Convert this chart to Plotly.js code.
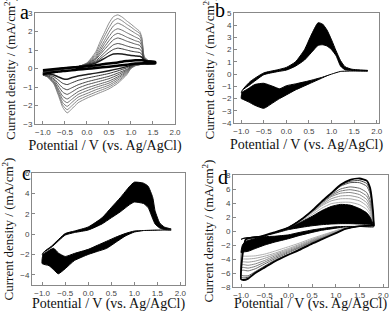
<!DOCTYPE html>
<html><head><meta charset="utf-8">
<script src="https://cdn.plot.ly/plotly-3.0.1.min.js"></script>
<style>html,body{margin:0;padding:0;background:#fff}#plot{width:392px;height:312px}</style>
</head><body><div id="plot"></div>
<script>
// ---------- Panel a : potential grids (V) and current density (mA/cm2) per cycle ----------
const aEf = [-1.0, -0.6, -0.2, 0.0, 0.2, 0.3, 0.4, 0.5, 0.6, 0.7, 0.8, 0.9, 1.0, 1.1, 1.2, 1.25, 1.3, 1.4, 1.55];
const aEr = [1.55, 1.3, 1.1, 1.0, 0.9, 0.7, 0.5, 0.2, 0.0, -0.2, -0.35, -0.45, -0.55, -0.65, -0.75, -0.9, -1.0];
const aFwd1  = [-0.1, 0.0, 0.08, 0.12, 0.18, 0.2, 0.24, 0.27, 0.3, 0.33, 0.37, 0.4, 0.42, 0.44, 0.45, 0.44, 0.42, 0.38, 0.35];
const aFwd2  = [-0.15, 0.0, 0.1, 0.18, 0.3, 0.42, 0.55, 0.68, 0.78, 0.8, 0.78, 0.74, 0.7, 0.68, 0.66, 0.6, 0.45, 0.38, 0.35];
const aFwd3  = [-0.17, -0.01, 0.1, 0.2, 0.36, 0.52, 0.7, 0.88, 1.03, 1.1, 1.06, 1.0, 0.94, 0.9, 0.86, 0.76, 0.48, 0.39, 0.35];
const aFwd4  = [-0.2, -0.02, 0.1, 0.22, 0.42, 0.62, 0.85, 1.08, 1.28, 1.35, 1.3, 1.22, 1.15, 1.1, 1.05, 0.9, 0.5, 0.4, 0.36];
const aFwd5  = [-0.21, -0.02, 0.1, 0.24, 0.5, 0.75, 1.03, 1.3, 1.55, 1.65, 1.58, 1.48, 1.4, 1.32, 1.25, 1.06, 0.52, 0.4, 0.36];
const aFwd6  = [-0.22, -0.03, 0.1, 0.25, 0.55, 0.85, 1.18, 1.5, 1.78, 1.9, 1.82, 1.7, 1.6, 1.5, 1.42, 1.2, 0.55, 0.4, 0.36];
const aFwd7  = [-0.24, -0.03, 0.1, 0.26, 0.62, 0.97, 1.35, 1.72, 2.03, 2.15, 2.07, 1.94, 1.82, 1.7, 1.58, 1.32, 0.57, 0.41, 0.37];
const aFwd8  = [-0.26, -0.04, 0.1, 0.28, 0.7, 1.1, 1.52, 1.95, 2.3, 2.45, 2.35, 2.2, 2.05, 1.9, 1.75, 1.45, 0.6, 0.41, 0.37];
const aFwd9  = [-0.28, -0.04, 0.1, 0.29, 0.8, 1.28, 1.75, 2.2, 2.57, 2.7, 2.58, 2.4, 2.24, 2.06, 1.9, 1.56, 0.62, 0.42, 0.38];
const aFwd10 = [-0.3, -0.05, 0.1, 0.3, 0.9, 1.45, 1.95, 2.45, 2.8, 2.9, 2.78, 2.58, 2.4, 2.2, 2.0, 1.65, 0.65, 0.42, 0.38];
const aRev1  = [0.28, 0.28, 0.27, 0.24, 0.2, 0.15, 0.1, 0.03, -0.02, -0.06, -0.1, -0.12, -0.14, -0.16, -0.2, -0.25, -0.3];
const aRev2  = [0.28, 0.27, 0.24, 0.18, 0.1, -0.02, -0.12, -0.25, -0.32, -0.4, -0.5, -0.58, -0.55, -0.45, -0.35, -0.3, -0.32];
const aRev3  = [0.28, 0.27, 0.22, 0.14, 0.03, -0.13, -0.27, -0.42, -0.52, -0.64, -0.78, -0.87, -0.8, -0.62, -0.45, -0.34, -0.32];
const aRev4  = [0.28, 0.26, 0.2, 0.1, -0.05, -0.25, -0.42, -0.6, -0.72, -0.88, -1.05, -1.15, -1.05, -0.8, -0.55, -0.38, -0.33];
const aRev5  = [0.29, 0.26, 0.19, 0.08, -0.1, -0.35, -0.55, -0.75, -0.88, -1.06, -1.28, -1.4, -1.28, -0.95, -0.62, -0.4, -0.33];
const aRev6  = [0.29, 0.25, 0.18, 0.06, -0.15, -0.45, -0.68, -0.9, -1.05, -1.25, -1.5, -1.65, -1.5, -1.1, -0.7, -0.42, -0.34];
const aRev7  = [0.3, 0.25, 0.17, 0.05, -0.2, -0.53, -0.79, -1.02, -1.2, -1.4, -1.68, -1.85, -1.68, -1.2, -0.74, -0.43, -0.34];
const aRev8  = [0.3, 0.25, 0.16, 0.03, -0.25, -0.62, -0.9, -1.15, -1.35, -1.55, -1.85, -2.05, -1.85, -1.3, -0.78, -0.44, -0.35];
const aRev9  = [0.3, 0.25, 0.15, 0.01, -0.3, -0.71, -1.0, -1.28, -1.48, -1.7, -2.03, -2.23, -1.98, -1.38, -0.82, -0.45, -0.35];
const aRev10 = [0.3, 0.25, 0.15, 0.0, -0.35, -0.8, -1.1, -1.4, -1.6, -1.85, -2.2, -2.4, -2.1, -1.45, -0.85, -0.45, -0.35];

// ---------- Panel b : first (inner) and last (outer) cycles ----------
const bEf = [-1.0, -0.97, -0.8, -0.5, -0.2, 0.0, 0.2, 0.4, 0.55, 0.7, 0.8, 0.9, 1.0, 1.1, 1.2, 1.3, 1.45, 1.8];
const bEr = [1.8, 1.45, 1.2, 1.0, 0.8, 0.5, 0.2, 0.0, -0.15, -0.3, -0.5, -0.7, -0.85, -0.97, -1.0];
const bOutF = [-2.0, -1.3, -0.6, 0.1, 0.35, 0.55, 1.0, 2.0, 3.2, 4.2, 4.1, 3.6, 2.8, 1.9, 1.1, 0.6, 0.4, 0.3];
const bInF  = [-1.5, -1.3, -0.85, -0.05, 0.2, 0.33, 0.65, 1.15, 1.75, 2.35, 2.4, 2.3, 2.0, 1.5, 0.65, 0.35, 0.3, 0.25];
const bOutR = [0.3, 0.3, 0.25, 0.05, -0.3, -0.8, -1.3, -1.7, -2.0, -2.35, -2.8, -2.55, -2.25, -2.05, -2.0];
const bInR  = [0.25, 0.25, 0.22, 0.0, -0.25, -0.55, -0.8, -0.95, -1.2, -1.0, -0.75, -0.85, -1.2, -1.45, -1.5];

// ---------- Panel c ----------
const cEf = [-1.0, -0.97, -0.8, -0.5, -0.3, 0.0, 0.3, 0.5, 0.7, 0.9, 1.0, 1.2, 1.3, 1.4, 1.45, 1.55, 1.65, 1.8];
const cEr = [1.8, 1.5, 1.2, 1.0, 0.8, 0.6, 0.4, 0.2, 0.0, -0.3, -0.5, -0.65, -0.75, -0.85, -1.0];
const cOutF = [-2.9, -1.8, -1.2, 0.05, 0.3, 0.7, 1.6, 2.6, 3.6, 4.7, 5.1, 5.0, 4.7, 3.6, 2.3, 1.1, 0.7, 0.5];
const cInF  = [-2.0, -1.8, -1.3, -0.1, 0.15, 0.4, 1.0, 1.6, 2.2, 2.9, 3.15, 3.0, 2.6, 1.5, 1.0, 0.6, 0.45, 0.4];
const cOutR = [0.5, 0.4, 0.35, 0.2, -0.2, -0.8, -1.4, -1.7, -2.0, -2.6, -3.4, -3.9, -3.5, -3.1, -2.9];
const cInR  = [0.4, 0.4, 0.35, 0.3, 0.05, -0.3, -0.7, -1.1, -1.5, -1.9, -2.2, -1.85, -1.4, -1.6, -2.0];

// ---------- Panel d ----------
const dEf = [-1.0, -0.97, -0.9, -0.6, -0.3, 0.0, 0.3, 0.5, 0.7, 0.9, 1.1, 1.3, 1.5, 1.65, 1.72, 1.76, 1.8];
const dEr = [1.8, 1.5, 1.2, 1.0, 0.7, 0.5, 0.2, 0.0, -0.3, -0.5, -0.7, -0.85, -0.95, -1.0];
const dFwd1 = [-1.2, -1.1, -1.0, -0.8, -0.35, 0.2, 0.55, 0.75, 0.9, 1.0, 1.05, 1.05, 1.0, 0.95, 0.9, 0.85, 0.8];
const dFwd2 = [-3.1, -2.0, -1.5, -0.9, -0.3, 0.4, 1.4, 2.1, 2.9, 3.5, 3.8, 3.7, 3.2, 2.6, 2.0, 1.4, 0.8];
const dFwd3 = [-3.6, -2.1, -1.45, -0.95, -0.3, 0.45, 1.55, 2.35, 3.25, 3.9, 4.1, 4.1, 3.75, 3.1, 2.4, 1.7, 0.85];
const dFwd4 = [-4.0, -2.2, -1.4, -1.0, -0.3, 0.5, 1.7, 2.6, 3.6, 4.3, 4.6, 4.6, 4.3, 3.6, 2.8, 2.0, 0.9];
const dFwd5 = [-4.4, -2.3, -1.4, -1.02, -0.3, 0.5, 1.72, 2.7, 3.75, 4.6, 5.0, 5.05, 4.75, 4.05, 3.2, 2.3, 0.9];
const dFwd6 = [-4.8, -2.4, -1.4, -1.05, -0.3, 0.5, 1.75, 2.8, 3.9, 4.9, 5.4, 5.5, 5.2, 4.5, 3.6, 2.6, 0.9];
const dFwd7 = [-5.2, -2.5, -1.35, -1.08, -0.3, 0.5, 1.77, 2.83, 4.0, 5.05, 5.7, 5.9, 5.65, 5.0, 4.05, 2.95, 0.92];
const dFwd8 = [-5.6, -2.6, -1.3, -1.1, -0.3, 0.5, 1.78, 2.85, 4.1, 5.2, 6.0, 6.3, 6.1, 5.5, 4.5, 3.3, 0.95];
const dFwd9 = [-6.3, -3.0, -1.3, -1.15, -0.25, 0.5, 1.8, 2.9, 4.15, 5.3, 6.4, 6.9, 6.9, 6.4, 5.4, 3.9, 1.0];
const dFwd10 = [-6.6, -3.2, -1.25, -1.0, -0.22, 0.5, 1.8, 2.9, 4.18, 5.35, 6.5, 7.1, 7.2, 6.8, 5.8, 4.2, 1.0];
const dFwd11 = [-6.9, -3.5, -1.2, -0.8, -0.2, 0.5, 1.8, 2.9, 4.2, 5.4, 6.6, 7.3, 7.5, 7.2, 6.2, 4.5, 1.0];
const dRev1 = [0.6, 0.65, 0.65, 0.6, 0.35, 0.15, -0.25, -0.55, -0.75, -0.8, -0.85, -0.95, -1.05, -1.2];
const dRev2 = [0.75, 0.75, 0.6, 0.4, 0.1, -0.2, -0.7, -1.1, -1.6, -2.0, -2.5, -2.9, -3.0, -3.1];
const dRev3 = [0.78, 0.75, 0.5, 0.05, -0.6, -1.05, -1.8, -2.25, -2.9, -3.3, -3.55, -3.6, -3.6, -3.6];
const dRev4 = [0.8, 0.75, 0.45, 0.0, -0.7, -1.2, -2.0, -2.5, -3.2, -3.6, -3.9, -4.0, -4.0, -4.0];
const dRev5 = [0.8, 0.75, 0.42, -0.05, -0.8, -1.3, -2.15, -2.65, -3.4, -3.9, -4.3, -4.45, -4.4, -4.4];
const dRev6 = [0.8, 0.75, 0.4, -0.1, -0.9, -1.4, -2.3, -2.8, -3.6, -4.2, -4.7, -4.9, -4.8, -4.8];
const dRev7 = [0.8, 0.73, 0.38, -0.15, -0.95, -1.5, -2.4, -2.95, -3.8, -4.45, -5.05, -5.3, -5.2, -5.2];
const dRev8 = [0.8, 0.72, 0.35, -0.2, -1.0, -1.6, -2.5, -3.1, -4.0, -4.7, -5.4, -5.7, -5.6, -5.6];
const dRev9 = [0.8, 0.7, 0.32, -0.25, -1.1, -1.7, -2.7, -3.3, -4.2, -5.0, -5.8, -6.4, -6.4, -6.3];
const dRev10 = [0.8, 0.7, 0.31, -0.28, -1.15, -1.75, -2.75, -3.35, -4.3, -5.1, -5.9, -6.6, -6.7, -6.6];
const dRev11 = [0.8, 0.7, 0.3, -0.3, -1.2, -1.8, -2.8, -3.4, -4.4, -5.2, -6.0, -6.8, -7.0, -6.9];

const xTickVals = [-1.0, -0.5, 0.0, 0.5, 1.0, 1.5, 2.0];
const xTitle = 'Potential / V (vs. Ag/AgCl)';
const yTitle = 'Current density / (mA/cm<sup>2</sup>)';
const panelLetters = ['a', 'b', 'c', 'd'];

function loop(Ef, fwd, Er, rev, ax, opts) {
  return Object.assign({
    type: 'scatter', mode: 'lines',
    x: Ef.concat(Er), y: fwd.concat(rev),
    xaxis: 'x' + ax, yaxis: 'y' + ax,
    hoverinfo: 'skip', showlegend: false
  }, opts);
}
function lineStyle(c, w) { return {line: {color: c, width: w, shape: 'spline', smoothing: 0.5}}; }
function filled(fc, lc) { return {fill: 'toself', fillcolor: fc, line: {color: lc, width: 1, shape: 'spline', smoothing: 0.5}}; }

const traces = [];
// a : outer (light grey) cycles first, inner (black) on top
const aF = [aFwd10, aFwd9, aFwd8, aFwd7, aFwd6, aFwd5, aFwd4, aFwd3, aFwd2, aFwd1];
const aR = [aRev10, aRev9, aRev8, aRev7, aRev6, aRev5, aRev4, aRev3, aRev2, aRev1];
const aCol = ['#8e8e8e', '#858585', '#7b7b7b', '#707070', '#636363', '#565656', '#474747', '#363636', '#1e1e1e', '#000000'];
const aW = [1, 1, 1, 1, 1, 1, 1, 1, 1.5, 2.5];
for (let i = 0; i < aF.length; i++) traces.push(loop(aEf, aF[i], aEr, aR[i], '', lineStyle(aCol[i], aW[i])));
// b
traces.push(loop(bEf, bOutF, bEr, bOutR, '2', filled('#000', '#000')));
traces.push(loop(bEf, bInF, bEr, bInR, '2', filled('#fff', '#000')));
// c
traces.push(loop(cEf, cOutF, cEr, cOutR, '3', filled('#000', '#000')));
traces.push(loop(cEf, cInF, cEr, cInR, '3', filled('#fff', '#000')));
// d
const dF = [dFwd10, dFwd9, dFwd8, dFwd7, dFwd6, dFwd5, dFwd4, dFwd3];
const dR = [dRev10, dRev9, dRev8, dRev7, dRev6, dRev5, dRev4, dRev3];
const dCol = ['#444', '#555', '#666', '#777', '#888', '#999', '#a5a5a5', '#b0b0b0'];
for (let i = 0; i < dF.length; i++) traces.push(loop(dEf, dF[i], dEr, dR[i], '4', lineStyle(dCol[i], 1)));
traces.push(loop(dEf, dFwd2, dEr, dRev2, '4', filled('#000', '#000')));
traces.push(loop(dEf, dFwd1, dEr, dRev1, '4', filled('#fff', '#000')));
traces.push(loop(dEf, dFwd11, dEr, dRev11, '4', lineStyle('#000', 1.8)));

const tickFont = {family: 'Liberation Sans', size: 8, color: '#444'};
function xax(domain, range, anchor) {
  return {domain: domain, range: range, anchor: anchor, tickvals: xTickVals, tickformat: '.1f',
    showline: true, mirror: true, linecolor: '#888', linewidth: 1, ticks: 'inside', ticklen: 3, tickcolor: '#888',
    showgrid: false, zeroline: false, tickfont: tickFont,
    title: {text: xTitle, standoff: 4, font: {family: 'Liberation Serif', size: 14, color: '#111'}}};
}
function yax(domain, range, dtick, anchor) {
  return {domain: domain, range: range, anchor: anchor, dtick: dtick, tick0: 0,
    showline: true, mirror: true, linecolor: '#888', linewidth: 1, ticks: 'inside', ticklen: 3, tickcolor: '#888',
    showgrid: false, zeroline: false, tickfont: tickFont,
    title: {text: yTitle, standoff: 4, font: {family: 'Liberation Serif', size: 13, color: '#111'}}};
}

const layout = {
  width: 392, height: 312, margin: {l: 0, r: 0, t: 0, b: 0},
  paper_bgcolor: '#fff', plot_bgcolor: '#fff', showlegend: false,
  xaxis: xax([35/392, 175/392], [-1.18, 2.0], 'y'),
  yaxis: yax([1-124/312, 1-13/312], [-3, 3], 1, 'x'),
  xaxis2: xax([234/392, 379/392], [-1.16, 2.05], 'y2'),
  yaxis2: yax([1-123/312, 1-13/312], [-4, 5], 1, 'x2'),
  xaxis3: xax([32/392, 185/392], [-1.22, 2.1], 'y3'),
  yaxis3: yax([1-285/312, 1-173/312], [-5, 6], 2, 'x3'),
  xaxis4: xax([233/392, 388/392], [-1.17, 2.1], 'y4'),
  yaxis4: yax([1-287/312, 1-175/312], [-8, 8], 2, 'x4'),
  annotations: [
    {text: panelLetters[0], x: 24/392, y: 1-12/312},
    {text: panelLetters[1], x: 220/392, y: 1-10/312},
    {text: panelLetters[2], x: 26/392, y: 1-173/312},
    {text: panelLetters[3], x: 223/392, y: 1-177/312}
  ].map(a => Object.assign({xref: 'paper', yref: 'paper', showarrow: false, xanchor: 'center', yanchor: 'middle',
    font: {family: 'Liberation Serif', size: 20, color: '#000'}}, a))
};
Plotly.newPlot('plot', traces, layout, {staticPlot: true, displayModeBar: false});
</script></body></html>
